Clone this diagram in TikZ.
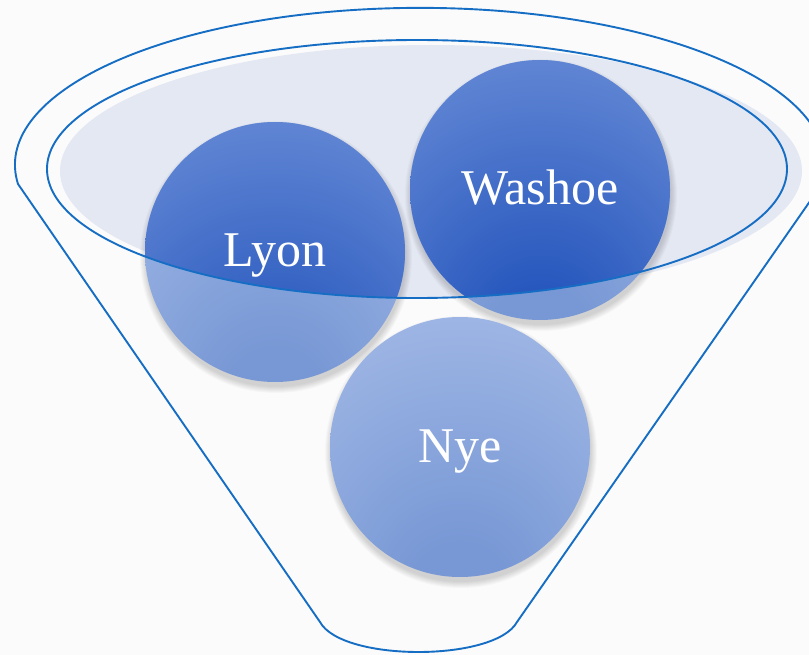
\documentclass[tikz,border=0pt]{standalone}
\usepackage{xcolor}
\usepackage{fontspec}
\setmainfont{Liberation Serif}
\definecolor{rim}{RGB}{22,110,196}
\definecolor{bowl}{RGB}{228,232,243}
\definecolor{paleLo}{RGB}{120,152,213}
\definecolor{paleHi}{RGB}{194,210,243}
\definecolor{deepLo}{RGB}{40,88,190}
\definecolor{deepHi}{RGB}{150,177,232}
\pgfdeclareradialshading{pale ball}{\pgfpoint{0bp}{-32bp}}{color(0bp)=(paleLo); color(10bp)=(paleLo); color(74bp)=(paleHi); color(90bp)=(paleHi)}
\pgfdeclareradialshading{deep ball}{\pgfpoint{0bp}{-32bp}}{color(0bp)=(deepLo); color(10bp)=(deepLo); color(74bp)=(deepHi); color(90bp)=(deepHi)}

\begin{document}
\begin{tikzpicture}
			[x = 1pt, y = -1pt,
			ball/.style = {circle, minimum size = 260pt, inner sep = 0pt, shading = pale ball},
			label text/.style = {text = white, font = \fontsize{50}{54}\selectfont, anchor = base, yshift = -15pt},
			rimline/.style = {draw = rim, line width = 1.9pt}]
			\fill[white!98.5!black] (0,0) rectangle (809,655);
			\useasboundingbox (0,0) rectangle (809,655);
			\begin{scope}
				\clip (0,0) rectangle (809,655);
				\draw[rimline, line join = round] (18,184) arc [start angle = 173, end angle = 367, x radius = 405, y radius = 157]
					-- (517,622) .. controls (495,662) and (342,662) .. (320,622) -- cycle;
			\end{scope}
			\fill[bowl] (431,171) ellipse [x radius = 371, y radius = 126];
			\foreach \c in {(275,252), (540,190), (460,447)}
				\foreach \r in {1,...,7}
					\fill[black, opacity = 0.025] \c ++(1,5) circle ({129 + \r});
			\node[ball] (lyon) at (275,252) {};
			\node[ball] (washoe) at (540,190) {};
			\node[ball] (nye) at (460,447) {};
			\begin{scope}
				\clip (417,169) ellipse [x radius = 370, y radius = 129];
				\shade[shading = deep ball] (lyon.center) circle (130);
				\shade[shading = deep ball] (washoe.center) circle (130);
			\end{scope}
			\draw[rimline] (417,169) ellipse [x radius = 370, y radius = 129];
			\node[label text] (lyon text) at (lyon.center) {Lyon};
			\node[label text] (washoe text) at (washoe.center) {Washoe};
			\node[label text] (nye text) at (nye.center) {Nye};
		\end{tikzpicture}
\end{document}
